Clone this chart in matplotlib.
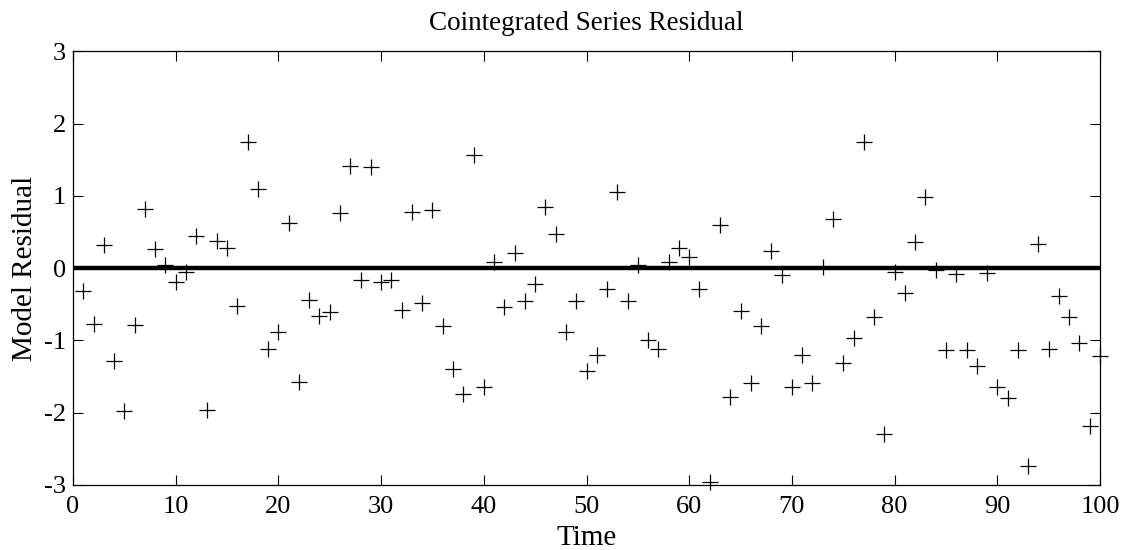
import matplotlib
matplotlib.use("Agg")
import matplotlib.pyplot as plt

plt.rcParams["font.family"] = ["Liberation Serif", "DejaVu Serif"]
plt.rcParams["axes.unicode_minus"] = False

time = list(range(1, 101))
residual = [
    -0.31, -0.77, 0.32, -1.28, -1.98, -0.79, 0.82, 0.26, 0.04, -0.19,
    -0.05, 0.45, -1.96, 0.37, 0.28, -0.52, 1.75, 1.10, -1.12, -0.88,
    0.63, -1.58, -0.44, -0.66, -0.61, 0.76, 1.41, -0.16, 1.40, -0.19,
    -0.17, -0.58, 0.78, -0.48, 0.80, -0.80, -1.40, -1.74, 1.56, -1.65,
    0.08, -0.54, 0.21, -0.45, -0.22, 0.85, 0.47, -0.88, -0.45, -1.42,
    -1.20, -0.29, 1.06, -0.45, 0.04, -0.99, -1.12, 0.08, 0.28, 0.15,
    -0.29, -2.96, 0.60, -1.78, -0.59, -1.59, -0.80, 0.24, -0.09, -1.65,
    -1.20, -1.59, 0.01, 0.68, -1.31, -0.97, 1.75, -0.67, -2.30, -0.06,
    -0.35, 0.36, 0.99, -0.03, -1.13, -0.08, -1.13, -1.35, -0.07, -1.65,
    -1.79, -1.13, -2.74, 0.34, -1.12, -0.39, -0.68, -1.04, -2.18, -1.22,
]
x_ticks = list(range(0, 101, 10))
y_ticks = [-3, -2, -1, 0, 1, 2, 3]

fig = plt.figure(figsize=(11.25, 5.5), dpi=100)
ax = fig.add_axes([0.0649, 0.1182, 0.9129, 0.7885])

ax.axhline(0, color="black", linewidth=3.2, zorder=2)
ax.plot(time, residual, linestyle="none", marker="+", color="black",
        markersize=11, markeredgewidth=0.9, clip_on=False, zorder=3)

ax.set_xlim(0, 100)
ax.set_ylim(-3, 3)
ax.set_xticks(x_ticks)
ax.set_yticks(y_ticks)
ax.tick_params(direction="in", top=True, right=True, length=7, width=0.8,
               labelsize=19, pad=5)
ax.tick_params(axis="x", pad=8)
for s in ax.spines.values():
    s.set_linewidth(0.9)

ax.set_title("Cointegrated Series Residual", fontsize=19.5, pad=15)
ax.set_xlabel("Time", fontsize=21, labelpad=5)
ax.set_ylabel("Model Residual", fontsize=21, labelpad=4)

fig.savefig("out.png", dpi=100)
